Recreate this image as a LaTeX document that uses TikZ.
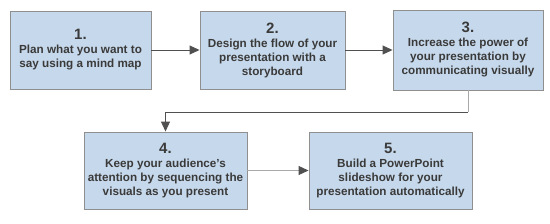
\documentclass[tikz,border=0pt]{standalone}
\usepackage{fontspec}
\setmainfont{Liberation Sans}
\usetikzlibrary{arrows.meta, positioning, calc}
\definecolor{stepFill}{HTML}{C6D8EB}
\definecolor{stepLine}{HTML}{8F8F8F}
\definecolor{stepText}{HTML}{3A3A3A}
\definecolor{linkDark}{HTML}{505050}
\definecolor{linkLight}{HTML}{A8A8A8}
\newcommand{\stepnum}[1]{{\fontsize{15}{15}\selectfont\bfseries #1}}

\begin{document}
\begin{tikzpicture}[x=1pt, y=1pt,
    stepbox/.style={draw=stepLine, fill=stepFill, line width=0.9pt,
      text=stepText, align=center, inner sep=0pt,
      font=\fontsize{11.7}{14}\selectfont\bfseries},
    link/.style={draw=linkDark, line width=0.9pt,
      -{Triangle[length=10pt, width=9pt, color=linkDark]}}]
    \useasboundingbox (0,0) rectangle (550,223);
    % top row
    \node[stepbox, minimum width=141pt, minimum height=78pt] (plan) at (80.5,173) {
      \stepnum{1.}\\[0pt]
      Plan what you want to\\ say using a mind map};
    \node[stepbox, minimum width=145pt, minimum height=78pt] (flow) at (272.5,173) {
      \stepnum{2.}\\[0pt]
      Design the flow of your\\ presentation with a\\ storyboard};
    \node[stepbox, minimum width=150pt, minimum height=80pt] (power) at (468,173) {
      \stepnum{3.}\\[0pt]
      Increase the power of\\ your presentation by\\ communicating visually};
    % bottom row
    \node[stepbox, minimum width=163pt, minimum height=77pt] (sequence) at (165.5,52.5) {
      \stepnum{4.}\\[0pt]
      Keep your audience's\\ attention by sequencing the\\ visuals as you present};
    \node[stepbox, minimum width=163pt, minimum height=77pt] (slideshow) at (390.5,52.5) {
      \stepnum{5.}\\[0pt]
      Build a PowerPoint\\ slideshow for your\\ presentation automatically};
    \coordinate (turn) at (power.south |- 0,111);
    \draw[link] (plan) -- (flow);
    \draw[link] (flow) -- (power);
    \draw[draw=linkLight, line width=0.9pt] (power.south) -- (turn);
    \draw[link] (turn) -| (sequence.north);
    \draw[link, draw=linkLight] (sequence) -- (slideshow);
  \end{tikzpicture}
\end{document}
